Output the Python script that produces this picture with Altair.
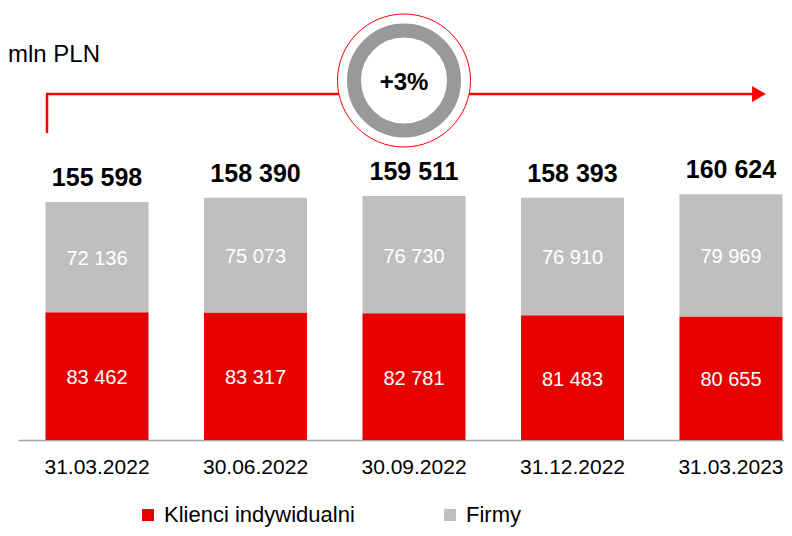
import altair as alt
import pandas as pd

dates = ["31.03.2022", "30.06.2022", "30.09.2022", "31.12.2022", "31.03.2023"]
klienci = [83462, 83317, 82781, 81483, 80655]
firmy = [72136, 75073, 76730, 76910, 79969]
totals = [155598, 158390, 159511, 158393, 160624]
series = ["Klienci indywidualni", "Firmy"]
colors = ["#E60000", "#BFBFBF"]
FONT = "Liberation Sans"


def fmt(v):
    return f"{v:,}".replace(",", " ")


rows = []
for d, k, f in zip(dates, klienci, firmy):
    rows.append({"date": d, "seg": series[0], "ord": 0, "val": k, "lbl": fmt(k)})
    rows.append({"date": d, "seg": series[1], "ord": 1, "val": f, "lbl": fmt(f)})
df = pd.DataFrame(rows)
tot = pd.DataFrame({"date": dates, "total": totals, "lbl": [fmt(t) for t in totals]})
one = pd.DataFrame({"a": [0]})

xscale = alt.Scale(domain=dates, range=[10, 802], paddingInner=0.35, paddingOuter=0.1735)
yscale = alt.Scale(domain=[0, 282353], nice=False, zero=True)

base = alt.Chart(df).transform_stack(
    stack="val", groupby=["date"], as_=["y0", "y1"], sort=[alt.SortField("ord", order="ascending")]
).transform_calculate(mid="(datum.y0 + datum.y1) / 2")

bars = base.mark_bar().encode(
    x=alt.X("date:N", scale=xscale, sort=dates,
            axis=alt.Axis(title=None, ticks=False, tickSize=0, labelFontSize=21, labelColor="black",
                          labelFont=FONT, labelPadding=16, domainColor="#A6A6A6", domainWidth=1.5,
                          labelAngle=0)),
    y=alt.Y("y0:Q", scale=yscale, axis=None),
    y2="y1:Q",
    color=alt.Color("seg:N", scale=alt.Scale(domain=series, range=colors),
                    legend=alt.Legend(title=None, orient="none", legendX=129, legendY=496,
                                      direction="horizontal", symbolType="square", symbolSize=144,
                                      symbolStrokeWidth=0, labelFontSize=22, labelFont=FONT,
                                      labelColor="black", labelOffset=5, columnPadding=84,
                                      labelLimit=0, padding=0)),
)

inner = base.mark_text(color="white", fontSize=20, font=FONT, baseline="alphabetic", dy=8).encode(
    x=alt.X("date:N", scale=xscale, sort=dates),
    y=alt.Y("mid:Q", scale=yscale),
    text="lbl:N",
)

top = alt.Chart(tot).mark_text(color="black", fontSize=25, fontWeight="bold", font=FONT,
                               baseline="alphabetic", dy=-16).encode(
    x=alt.X("date:N", scale=xscale, sort=dates),
    y=alt.Y("total:Q", scale=yscale),
    text="lbl:N",
)

RED = "#FF0000"
ann = alt.Chart(one)
vline = ann.mark_rule(color=RED, strokeWidth=2.5).encode(
    x=alt.value(39), y=alt.value(86), y2=alt.value(125))
hline = ann.mark_rule(color=RED, strokeWidth=2.5).encode(
    x=alt.value(38), x2=alt.value(746), y=alt.value(86))
arrow = ann.mark_point(shape="triangle-right", filled=True, color=RED, size=256, opacity=1).encode(
    x=alt.value(751), y=alt.value(86))
outer = ann.mark_point(shape="circle", filled=True, fill="white", stroke=RED, strokeWidth=1,
                       size=133 * 133, opacity=1, fillOpacity=1).encode(
    x=alt.value(396), y=alt.value(72.5))
ring = ann.mark_point(shape="circle", filled=False, stroke="#999999", strokeWidth=14,
                      size=100 * 100, opacity=1).encode(
    x=alt.value(396), y=alt.value(72.5))
pct = ann.mark_text(text="+3%", fontSize=24, fontWeight="bold", font=FONT, color="black",
                    baseline="alphabetic", align="center").encode(
    x=alt.value(396), y=alt.value(82))
unit = ann.mark_text(text="mln PLN", fontSize=24, font=FONT, color="black",
                     baseline="alphabetic", align="left").encode(
    x=alt.value(0), y=alt.value(54))

chart = alt.layer(bars, inner, top, vline, hline, arrow, outer, ring, pct, unit).properties(
    width=776, height=432,
    autosize=alt.AutoSizeParams(type="none"),
    padding={"left": 0, "top": 0, "right": 0, "bottom": 88},
).configure_view(stroke=None)

chart.save("out.html", embed_options={"renderer": "svg", "actions": False})
